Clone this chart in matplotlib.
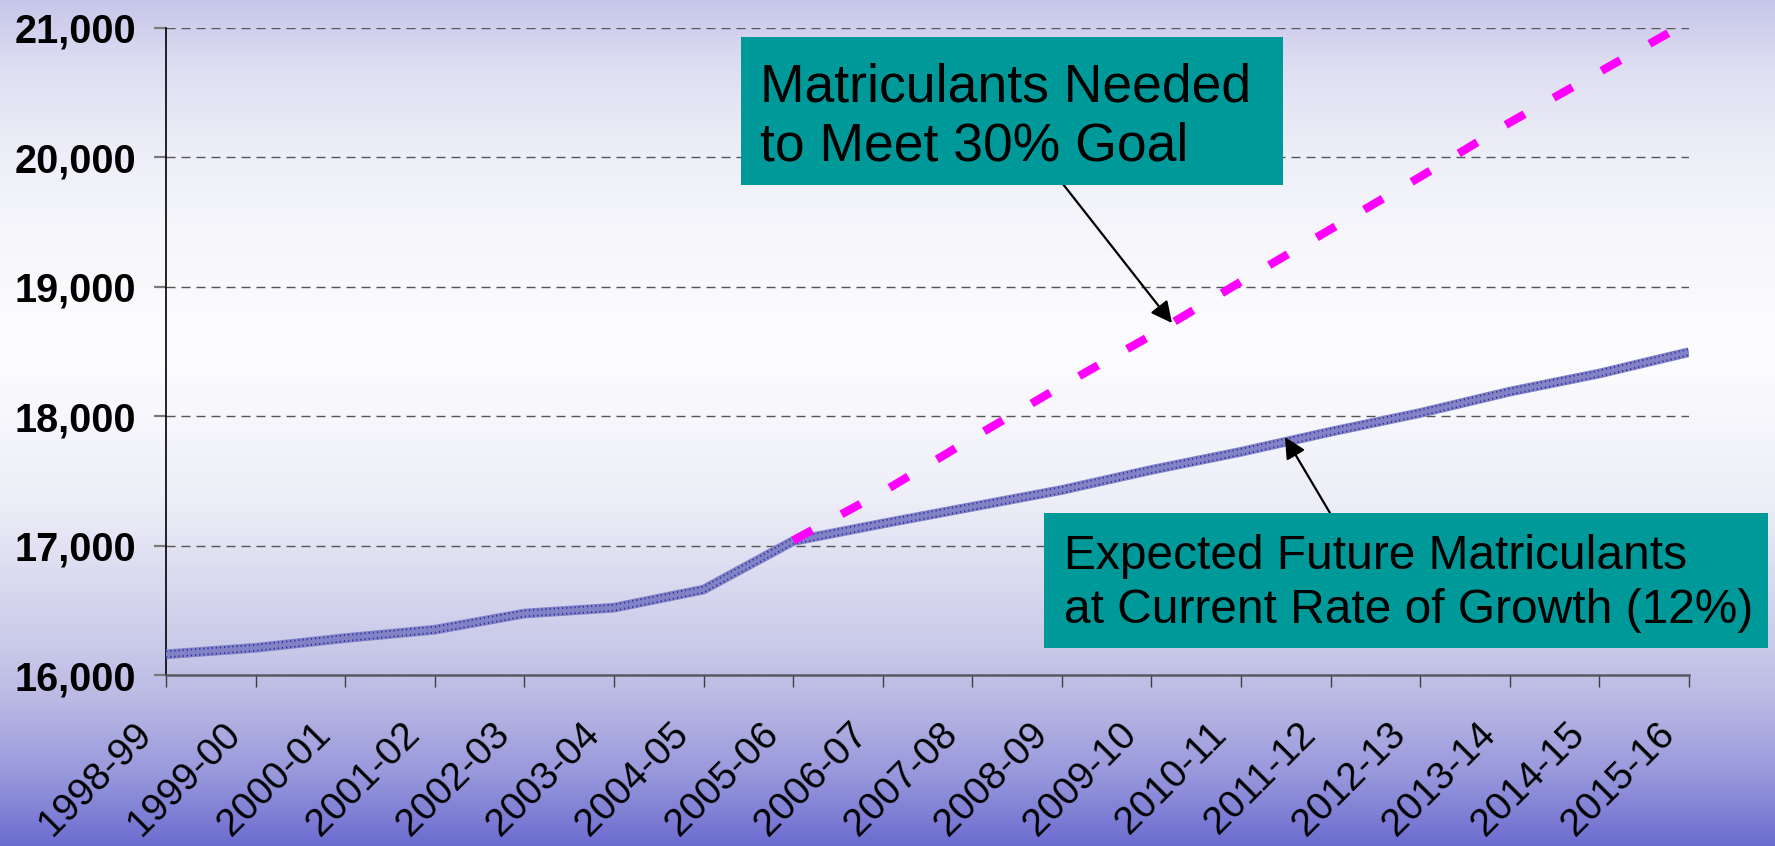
import numpy as np
import matplotlib
matplotlib.use("Agg")
import matplotlib.pyplot as plt
from matplotlib.ticker import FuncFormatter
from matplotlib.transforms import ScaledTranslation
from matplotlib.patches import Rectangle

plt.rcParams["font.family"] = ["Liberation Sans", "DejaVu Sans"]

# -------------------------
# DATA
# -------------------------
years = ["1998-99", "1999-00", "2000-01", "2001-02", "2002-03", "2003-04",
         "2004-05", "2005-06", "2006-07", "2007-08", "2008-09", "2009-10",
         "2010-11", "2011-12", "2012-13", "2013-14", "2014-15", "2015-16"]

# expected matriculants at current growth rate (12%)
expected = [16160, 16210, 16285, 16350, 16475, 16520, 16660, 17035, 17170,
            17300, 17430, 17585, 17725, 17880, 18025, 18190, 18330, 18495]

# matriculants needed to meet the 30% goal, from 2005-06 on
goal_start = 7
goal = [17040, 17415, 17830, 18235, 18625, 19040, 19445, 19850, 20270,
        20660, 21050]

yticks = [16000, 17000, 18000, 19000, 20000, 21000]

# -------------------------
# FIGURE + GRADIENT BACKGROUND
# -------------------------
W, H = 1775, 846
fig = plt.figure(figsize=(W / 100, H / 100), dpi=100)

bg = fig.add_axes([0, 0, 1, 1], zorder=-10)
stops = [0.0, 0.08, 0.18, 0.30, 0.42, 0.59, 0.71, 0.77, 0.83, 0.92, 1.0]
rgb = np.array([
    [198, 198, 234], [222, 222, 242], [238, 238, 248], [248, 248, 252],
    [253, 253, 255], [238, 238, 248], [213, 213, 238], [200, 200, 233],
    [185, 185, 228], [150, 150, 220], [108, 108, 208]]) / 255.0
t = np.linspace(0, 1, 400)
grad = np.stack([np.interp(t, stops, rgb[:, k]) for k in range(3)], axis=1)
bg.imshow(grad[:, None, :], aspect="auto", extent=[0, 1, 0, 1])
bg.set_axis_off()

# -------------------------
# PLOT AREA
# -------------------------
ax = fig.add_axes([166 / W, 1 - 675 / H, (1689 - 166) / W, (675 - 28) / H])
ax.set_facecolor("none")

x = np.arange(len(years))
# patterned blue line: lavender base + dark dotted rows
ax.plot(x, expected, color="#8282c6", lw=7.0, solid_capstyle="butt",
        solid_joinstyle="round", zorder=3)
for off in (-0.0035, 0.0035):
    tr = ax.transData + ScaledTranslation(0, off * 8.46, fig.dpi_scale_trans)
    ax.plot(x, expected, color="#30309e", lw=1.3, linestyle=(0, (0.7, 1.6)),
            transform=tr, zorder=4)

xg = np.arange(goal_start, goal_start + len(goal))
ax.plot(xg, goal, color="#ff00ff", lw=6.0, linestyle=(0, (2.6, 4.0)),
        dash_capstyle="butt", zorder=5)

ax.set_xlim(0, len(years) - 1)
ax.set_ylim(16000, 21000)
ax.set_yticks(yticks)
ax.yaxis.set_major_formatter(FuncFormatter(lambda v, p: f"{int(v):,}"))
ax.set_xticks(x)
ax.set_xticklabels(years, rotation=45, ha="right", va="top",
                   rotation_mode="anchor", fontsize=28)

ax.grid(axis="y", color="#555555", lw=1.0, linestyle=(0, (6.5, 4.3)))
ax.set_axisbelow(True)

for s in ["top", "right"]:
    ax.spines[s].set_visible(False)
ax.spines["left"].set_color("black")
ax.spines["left"].set_linewidth(1.2)
ax.spines["bottom"].set_color("#5a5a66")
ax.spines["bottom"].set_linewidth(1.8)

ax.tick_params(axis="y", length=8.6, width=1.6, color="#7a7a7a", pad=13,
               labelsize=28.5)
ax.tick_params(axis="x", length=8.6, width=1.0, color="#3c3c3c", pad=21)
for lab in ax.get_yticklabels():
    lab.set_fontweight("bold")

shift = ScaledTranslation(-0.33, 0, fig.dpi_scale_trans)
for lab in ax.get_xticklabels():
    lab.set_transform(lab.get_transform() + shift)

# -------------------------
# CALLOUT BOXES
# -------------------------
teal = "#009999"


def box(x0, y0, x1, y1):
    fig.patches.append(Rectangle((x0 / W, 1 - y1 / H), (x1 - x0) / W,
                                 (y1 - y0) / H, transform=fig.transFigure,
                                 facecolor=teal, edgecolor="none", zorder=6))


box(741, 37, 1283, 185)
fig.text(760 / W, 1 - 62 / H, "Matriculants Needed\nto Meet 30% Goal",
         fontsize=38.5, va="top", ha="left", linespacing=1.25, zorder=7)

box(1044, 513, 1768, 648)
fig.text(1064 / W, 1 - 534 / H,
         "Expected Future Matriculants\nat Current Rate of Growth (12%)",
         fontsize=34.5, va="top", ha="left", linespacing=1.25, zorder=7)

arrow = dict(arrowstyle="-|>", color="black", lw=1.6, mutation_scale=32,
             shrinkA=0, shrinkB=0)
ax.annotate("", xy=(1172 / W, 1 - 323 / H), xycoords="figure fraction",
            xytext=(1059 / W, 1 - 179 / H), textcoords="figure fraction",
            arrowprops=arrow, zorder=8)
ax.annotate("", xy=(1285 / W, 1 - 437 / H), xycoords="figure fraction",
            xytext=(1330 / W, 1 - 513 / H), textcoords="figure fraction",
            arrowprops=arrow, zorder=8)

fig.savefig("out.png", dpi=100)
